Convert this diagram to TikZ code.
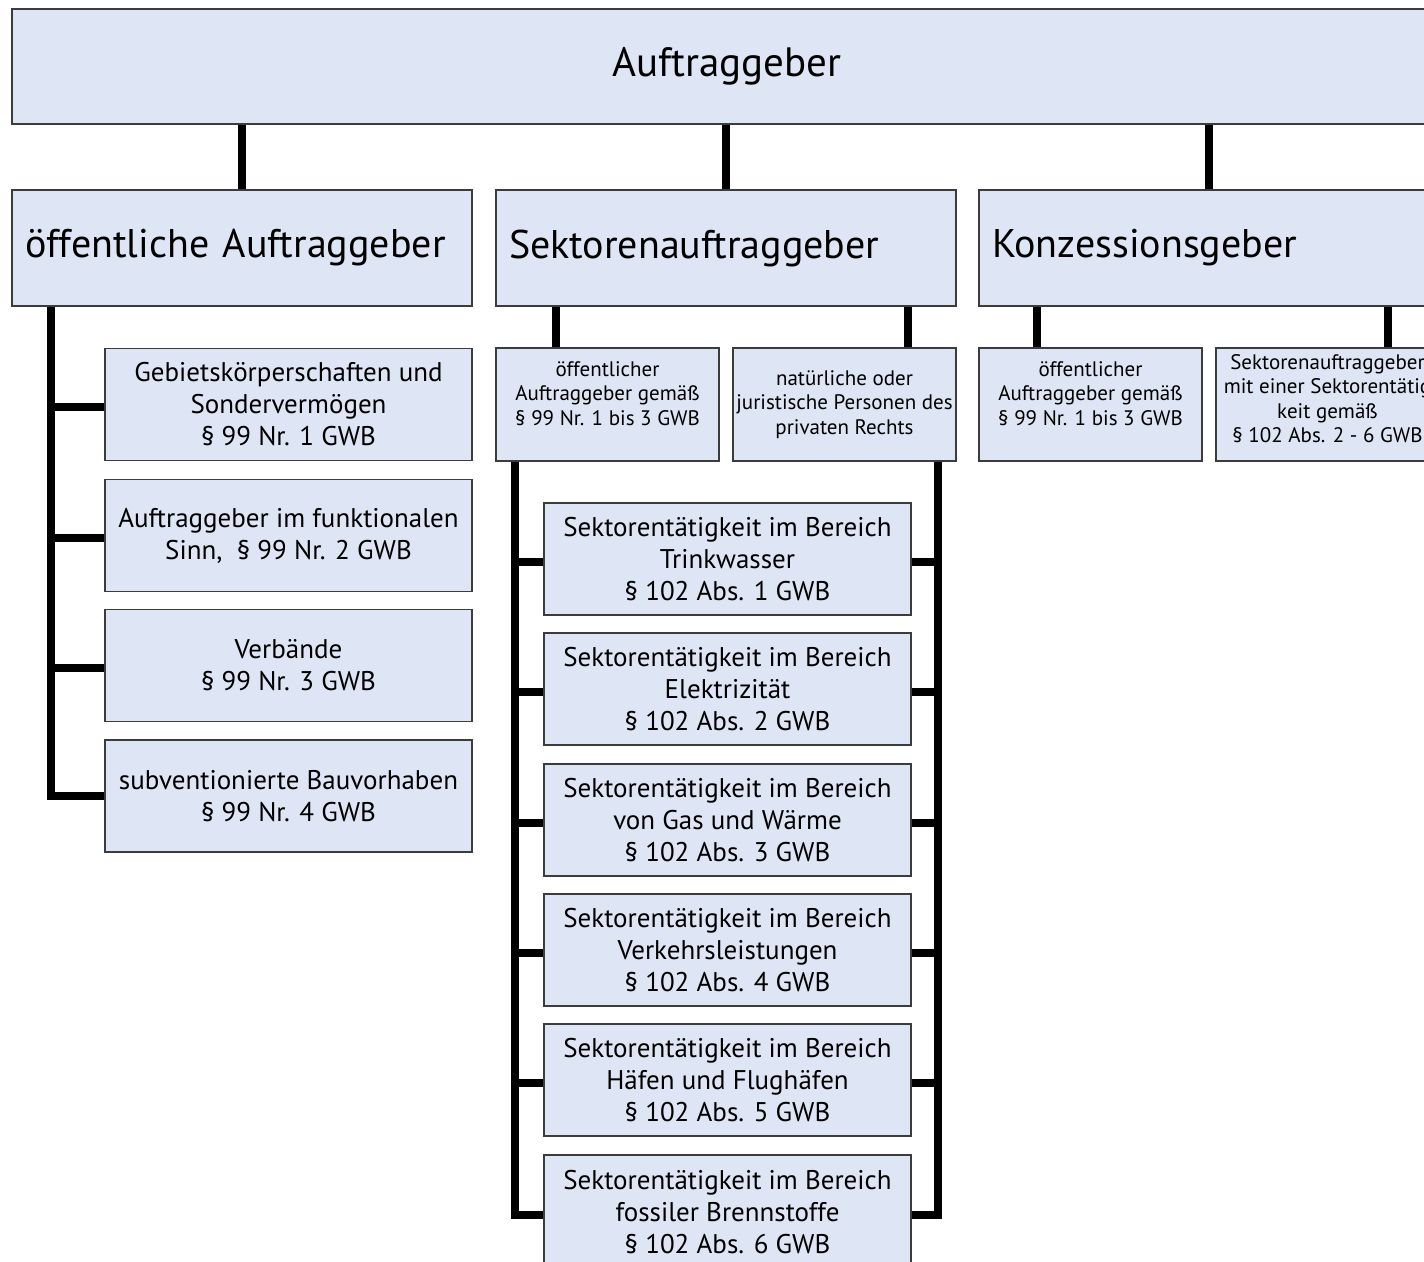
\documentclass[tikz,border=0pt]{standalone}
\usepackage{fontspec}
\setmainfont{PT Sans}
\usetikzlibrary{positioning}
\definecolor{boxfill}{HTML}{DEE5F4}
\definecolor{boxline}{HTML}{3C3C3C}
\tikzset{x=1pt, y=-1pt,
  box/.style={draw=boxline, fill=boxfill, line width=1.6pt, inner sep=0pt, align=center},
  bigbox/.style={box, minimum width=460pt, minimum height=116pt, text width=434pt, align=left, font=\fontsize{40}{46}\selectfont},
  midbox/.style={box, minimum width=367pt, minimum height=112pt, font=\fontsize{27}{32}\selectfont},
  smallbox/.style={box, minimum width=223pt, minimum height=113pt, font=\fontsize{21}{24.5}\selectfont},
  link/.style={line width=8pt, line join=miter, black},
}

\begin{document}
\begin{tikzpicture}
    \useasboundingbox (0,0) rectangle (1424,1261);
    \clip (0,0) rectangle (1424,1261);
    \fill[white] (0,0) rectangle (1424,1261);

    \node[box, minimum width=1430pt, minimum height=115pt, font=\fontsize{41}{46}\selectfont] at (727,66.5) (top) {Auftraggeber};

    \node[bigbox] at (242,248) (oeff) {öffentliche Auftraggeber};
    \node[bigbox] at (726,248) (sekt) {Sektorenauftraggeber};
    \node[bigbox] at (1209,248) (konz) {Konzessionsgeber};

    \node[midbox] at (288.5,404.5) (oa1) {Gebietskörperschaften und\\Sondervermögen\\§ 99 Nr. 1 GWB};
    \node[midbox] at (288.5,535.5) (oa2) {Auftraggeber im funktionalen\\Sinn, \ § 99 Nr. 2 GWB};
    \node[midbox] at (288.5,665.5) (oa3) {Verbände\\§ 99 Nr. 3 GWB};
    \node[midbox] at (288.5,796) (oa4) {subventionierte Bauvorhaben\\§ 99 Nr. 4 GWB};

    \node[smallbox] at (607.5,404.5) (sa) {öffentlicher\\Auftraggeber gemäß\\§ 99 Nr. 1 bis 3 GWB\\[-2.5pt]};
    \node[smallbox] at (844.5,404.5) (sb) {natürliche oder\\juristische Personen des\\privaten Rechts};

    \node[midbox] at (727.5,559) (t1) {Sektorentätigkeit im Bereich\\Trinkwasser\\§ 102 Abs. 1 GWB};
    \node[midbox] at (727.5,689) (t2) {Sektorentätigkeit im Bereich\\Elektrizität\\§ 102 Abs. 2 GWB};
    \node[midbox] at (727.5,820) (t3) {Sektorentätigkeit im Bereich\\von Gas und Wärme\\§ 102 Abs. 3 GWB};
    \node[midbox] at (727.5,950) (t4) {Sektorentätigkeit im Bereich\\Verkehrsleistungen\\§ 102 Abs. 4 GWB};
    \node[midbox] at (727.5,1080) (t5) {Sektorentätigkeit im Bereich\\Häfen und Flughäfen\\§ 102 Abs. 5 GWB};
    \node[midbox, minimum height=115pt] at (727.5,1212.5) (t6) {Sektorentätigkeit im Bereich\\fossiler Brennstoffe\\§ 102 Abs. 6 GWB};

    \node[smallbox] at (1090.5,404.5) (ka) {öffentlicher\\Auftraggeber gemäß\\§ 99 Nr. 1 bis 3 GWB\\[-2.5pt]};
    \node[smallbox] at (1327.5,404.5) (kb) {Sektorenauftraggeber\\mit einer Sektorentätig\\keit gemäß\\§ 102 Abs. 2 - 6 GWB\\[-12.5pt]};

    \draw[link] (oeff.north) -- (oeff.north |- top.south)
                (sekt.north) -- (sekt.north |- top.south)
                (konz.north) -- (konz.north |- top.south);

    \draw[link] ([xshift=40pt]oeff.south west) |- (oa4.west);
    \foreach \c in {oa1,oa2,oa3}
        \draw[link] ([xshift=40pt]oeff.south west) |- ([yshift=-2pt]\c.west);

    \draw[link] ([xshift=61pt]sa.north west) -- ([xshift=61pt]sekt.south west)
                ([xshift=-49pt]sb.north east) -- ([xshift=-49pt]sekt.south east);

    \draw[link] ([xshift=20pt]sa.south west) |- ([yshift=-2pt]t6.west);
    \draw[link] ([xshift=-19pt]sb.south east) |- ([yshift=-2pt]t6.east);
    \foreach \t in {t1,t2,t3,t4,t5} {
        \draw[link] ([xshift=20pt]sa.south west) |- ([yshift=-3pt]\t.west);
        \draw[link] ([xshift=-19pt]sb.south east) |- ([yshift=-3pt]\t.east);
    }

    \draw[link] ([xshift=59pt]ka.north west) -- ([xshift=59pt]konz.south west)
                ([xshift=-52pt]kb.north east) -- ([xshift=-52pt]konz.south east);
\end{tikzpicture}
\end{document}
